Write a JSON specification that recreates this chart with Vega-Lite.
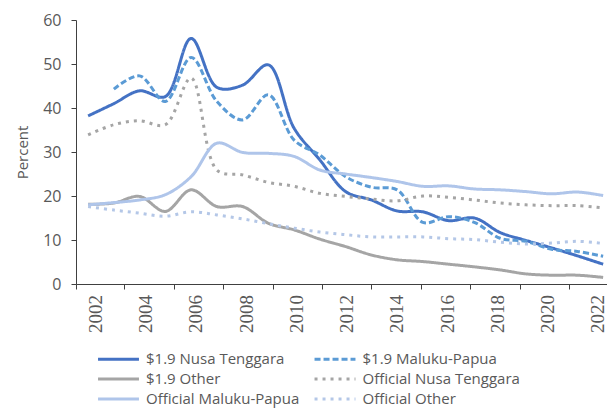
{
  "$schema": "https://vega.github.io/schema/vega-lite/v6.json",
  "width": 531,
  "height": 264,
  "autosize": {"type": "none"},
  "padding": {"left": 76, "top": 20, "right": 0, "bottom": 124},
  "background": "white",
  "config": {
    "view": {"stroke": null},
    "font": "Open Sans",
    "axis": {"labelFont": "Open Sans", "titleFont": "Open Sans", "labelColor": "#595959", "titleColor": "#595959", "domainColor": "#404040", "tickColor": "#404040", "grid": false}
  },
  "data": {"values": [
    {"year": 2002, "series": "$1.9 Nusa Tenggara", "value": 38.2},
    {"year": 2003, "series": "$1.9 Nusa Tenggara", "value": 41.0},
    {"year": 2004, "series": "$1.9 Nusa Tenggara", "value": 43.9},
    {"year": 2005, "series": "$1.9 Nusa Tenggara", "value": 42.6},
    {"year": 2006, "series": "$1.9 Nusa Tenggara", "value": 55.8},
    {"year": 2007, "series": "$1.9 Nusa Tenggara", "value": 44.7},
    {"year": 2008, "series": "$1.9 Nusa Tenggara", "value": 45.2},
    {"year": 2009, "series": "$1.9 Nusa Tenggara", "value": 49.8},
    {"year": 2010, "series": "$1.9 Nusa Tenggara", "value": 35.4},
    {"year": 2011, "series": "$1.9 Nusa Tenggara", "value": 28.2},
    {"year": 2012, "series": "$1.9 Nusa Tenggara", "value": 21.0},
    {"year": 2013, "series": "$1.9 Nusa Tenggara", "value": 19.1},
    {"year": 2014, "series": "$1.9 Nusa Tenggara", "value": 16.6},
    {"year": 2015, "series": "$1.9 Nusa Tenggara", "value": 16.4},
    {"year": 2016, "series": "$1.9 Nusa Tenggara", "value": 14.4},
    {"year": 2017, "series": "$1.9 Nusa Tenggara", "value": 15.0},
    {"year": 2018, "series": "$1.9 Nusa Tenggara", "value": 11.7},
    {"year": 2019, "series": "$1.9 Nusa Tenggara", "value": 9.9},
    {"year": 2020, "series": "$1.9 Nusa Tenggara", "value": 8.2},
    {"year": 2021, "series": "$1.9 Nusa Tenggara", "value": 6.4},
    {"year": 2022, "series": "$1.9 Nusa Tenggara", "value": 4.5},

    {"year": 2003, "series": "$1.9 Maluku-Papua", "value": 44.3},
    {"year": 2004, "series": "$1.9 Maluku-Papua", "value": 47.3},
    {"year": 2005, "series": "$1.9 Maluku-Papua", "value": 41.5},
    {"year": 2006, "series": "$1.9 Maluku-Papua", "value": 51.5},
    {"year": 2007, "series": "$1.9 Maluku-Papua", "value": 41.5},
    {"year": 2008, "series": "$1.9 Maluku-Papua", "value": 37.3},
    {"year": 2009, "series": "$1.9 Maluku-Papua", "value": 43.0},
    {"year": 2010, "series": "$1.9 Maluku-Papua", "value": 32.7},
    {"year": 2011, "series": "$1.9 Maluku-Papua", "value": 29.3},
    {"year": 2012, "series": "$1.9 Maluku-Papua", "value": 24.4},
    {"year": 2013, "series": "$1.9 Maluku-Papua", "value": 22.0},
    {"year": 2014, "series": "$1.9 Maluku-Papua", "value": 21.4},
    {"year": 2015, "series": "$1.9 Maluku-Papua", "value": 14.0},
    {"year": 2016, "series": "$1.9 Maluku-Papua", "value": 15.3},
    {"year": 2017, "series": "$1.9 Maluku-Papua", "value": 14.0},
    {"year": 2018, "series": "$1.9 Maluku-Papua", "value": 10.4},
    {"year": 2019, "series": "$1.9 Maluku-Papua", "value": 9.7},
    {"year": 2020, "series": "$1.9 Maluku-Papua", "value": 7.9},
    {"year": 2021, "series": "$1.9 Maluku-Papua", "value": 7.4},
    {"year": 2022, "series": "$1.9 Maluku-Papua", "value": 6.3},

    {"year": 2002, "series": "$1.9 Other", "value": 18.1},
    {"year": 2003, "series": "$1.9 Other", "value": 18.4},
    {"year": 2004, "series": "$1.9 Other", "value": 19.9},
    {"year": 2005, "series": "$1.9 Other", "value": 16.5},
    {"year": 2006, "series": "$1.9 Other", "value": 21.4},
    {"year": 2007, "series": "$1.9 Other", "value": 17.6},
    {"year": 2008, "series": "$1.9 Other", "value": 17.6},
    {"year": 2009, "series": "$1.9 Other", "value": 13.8},
    {"year": 2010, "series": "$1.9 Other", "value": 12.3},
    {"year": 2011, "series": "$1.9 Other", "value": 10.2},
    {"year": 2012, "series": "$1.9 Other", "value": 8.5},
    {"year": 2013, "series": "$1.9 Other", "value": 6.6},
    {"year": 2014, "series": "$1.9 Other", "value": 5.5},
    {"year": 2015, "series": "$1.9 Other", "value": 5.1},
    {"year": 2016, "series": "$1.9 Other", "value": 4.5},
    {"year": 2017, "series": "$1.9 Other", "value": 3.9},
    {"year": 2018, "series": "$1.9 Other", "value": 3.2},
    {"year": 2019, "series": "$1.9 Other", "value": 2.3},
    {"year": 2020, "series": "$1.9 Other", "value": 2.0},
    {"year": 2021, "series": "$1.9 Other", "value": 2.0},
    {"year": 2022, "series": "$1.9 Other", "value": 1.5},

    {"year": 2002, "series": "Official Nusa Tenggara", "value": 33.9},
    {"year": 2003, "series": "Official Nusa Tenggara", "value": 36.2},
    {"year": 2004, "series": "Official Nusa Tenggara", "value": 37.1},
    {"year": 2005, "series": "Official Nusa Tenggara", "value": 36.2},
    {"year": 2006, "series": "Official Nusa Tenggara", "value": 46.8},
    {"year": 2007, "series": "Official Nusa Tenggara", "value": 25.9},
    {"year": 2008, "series": "Official Nusa Tenggara", "value": 24.8},
    {"year": 2009, "series": "Official Nusa Tenggara", "value": 23.1},
    {"year": 2010, "series": "Official Nusa Tenggara", "value": 22.2},
    {"year": 2011, "series": "Official Nusa Tenggara", "value": 20.6},
    {"year": 2012, "series": "Official Nusa Tenggara", "value": 19.9},
    {"year": 2013, "series": "Official Nusa Tenggara", "value": 19.3},
    {"year": 2014, "series": "Official Nusa Tenggara", "value": 18.9},
    {"year": 2015, "series": "Official Nusa Tenggara", "value": 20.0},
    {"year": 2016, "series": "Official Nusa Tenggara", "value": 19.7},
    {"year": 2017, "series": "Official Nusa Tenggara", "value": 19.1},
    {"year": 2018, "series": "Official Nusa Tenggara", "value": 18.4},
    {"year": 2019, "series": "Official Nusa Tenggara", "value": 18.0},
    {"year": 2020, "series": "Official Nusa Tenggara", "value": 17.8},
    {"year": 2021, "series": "Official Nusa Tenggara", "value": 17.8},
    {"year": 2022, "series": "Official Nusa Tenggara", "value": 17.3},

    {"year": 2002, "series": "Official Maluku-Papua", "value": 18.0},
    {"year": 2003, "series": "Official Maluku-Papua", "value": 18.5},
    {"year": 2004, "series": "Official Maluku-Papua", "value": 19.1},
    {"year": 2005, "series": "Official Maluku-Papua", "value": 20.3},
    {"year": 2006, "series": "Official Maluku-Papua", "value": 24.4},
    {"year": 2007, "series": "Official Maluku-Papua", "value": 32.0},
    {"year": 2008, "series": "Official Maluku-Papua", "value": 29.9},
    {"year": 2009, "series": "Official Maluku-Papua", "value": 29.7},
    {"year": 2010, "series": "Official Maluku-Papua", "value": 29.0},
    {"year": 2011, "series": "Official Maluku-Papua", "value": 25.9},
    {"year": 2012, "series": "Official Maluku-Papua", "value": 25.0},
    {"year": 2013, "series": "Official Maluku-Papua", "value": 24.2},
    {"year": 2014, "series": "Official Maluku-Papua", "value": 23.3},
    {"year": 2015, "series": "Official Maluku-Papua", "value": 22.2},
    {"year": 2016, "series": "Official Maluku-Papua", "value": 22.3},
    {"year": 2017, "series": "Official Maluku-Papua", "value": 21.6},
    {"year": 2018, "series": "Official Maluku-Papua", "value": 21.4},
    {"year": 2019, "series": "Official Maluku-Papua", "value": 21.0},
    {"year": 2020, "series": "Official Maluku-Papua", "value": 20.5},
    {"year": 2021, "series": "Official Maluku-Papua", "value": 20.9},
    {"year": 2022, "series": "Official Maluku-Papua", "value": 20.1},

    {"year": 2002, "series": "Official Other", "value": 17.6},
    {"year": 2003, "series": "Official Other", "value": 16.8},
    {"year": 2004, "series": "Official Other", "value": 16.1},
    {"year": 2005, "series": "Official Other", "value": 15.4},
    {"year": 2006, "series": "Official Other", "value": 16.4},
    {"year": 2007, "series": "Official Other", "value": 15.7},
    {"year": 2008, "series": "Official Other", "value": 14.8},
    {"year": 2009, "series": "Official Other", "value": 13.7},
    {"year": 2010, "series": "Official Other", "value": 12.7},
    {"year": 2011, "series": "Official Other", "value": 11.8},
    {"year": 2012, "series": "Official Other", "value": 11.2},
    {"year": 2013, "series": "Official Other", "value": 10.7},
    {"year": 2014, "series": "Official Other", "value": 10.7},
    {"year": 2015, "series": "Official Other", "value": 10.7},
    {"year": 2016, "series": "Official Other", "value": 10.3},
    {"year": 2017, "series": "Official Other", "value": 10.1},
    {"year": 2018, "series": "Official Other", "value": 9.5},
    {"year": 2019, "series": "Official Other", "value": 9.1},
    {"year": 2020, "series": "Official Other", "value": 9.3},
    {"year": 2021, "series": "Official Other", "value": 9.7},
    {"year": 2022, "series": "Official Other", "value": 9.2}
  ]},
  "layer": [
    {
      "mark": {"type": "line", "interpolate": "catmull-rom", "strokeWidth": 3, "strokeCap": "butt"},
      "encoding": {
        "x": {
          "field": "year", "type": "quantitative",
          "scale": {"domain": [2001.53, 2022.15], "nice": false, "zero": false},
          "axis": {
            "title": null,
            "values": [2001.53, 2003.41, 2005.33, 2007.25, 2009.17, 2011.08, 2013.0, 2014.92, 2016.84, 2018.76, 2020.68],
            "labels": false, "tickSize": 5
          }
        },
        "y": {
          "field": "value", "type": "quantitative",
          "scale": {"domain": [0, 60], "nice": false},
          "axis": {
            "title": "Percent", "values": [0, 10, 20, 30, 40, 50, 60],
            "tickSize": 5, "labelPadding": 10, "labelFontSize": 16,
            "titleFontSize": 15, "titleFontWeight": "normal",
            "titleX": -54, "titleY": 132, "titleAngle": -90, "titleAlign": "center", "titleBaseline": "middle"
          }
        },
        "color": {
          "field": "series", "type": "nominal",
          "scale": {
            "domain": ["$1.9 Nusa Tenggara", "$1.9 Maluku-Papua", "$1.9 Other", "Official Nusa Tenggara", "Official Maluku-Papua", "Official Other"],
            "range": ["#4472C4", "#5B9BD5", "#A5A5A5", "#A5A5A5", "#AFC5EA", "#B4C7E7"]
          },
          "legend": {
            "title": null, "orient": "none", "legendX": 31, "legendY": 327.5, "columns": 2, "direction": "horizontal",
            "symbolType": "M-2.1,0H2.1", "symbolSize": 380, "symbolStrokeWidth": 3,
            "labelFontSize": 15, "labelFont": "Open Sans", "labelColor": "#595959",
            "labelOffset": 16, "rowPadding": -1, "columnPadding": 8.5, "padding": 0
          }
        },
        "strokeDash": {
          "field": "series", "type": "nominal",
          "scale": {
            "domain": ["$1.9 Nusa Tenggara", "$1.9 Maluku-Papua", "$1.9 Other", "Official Nusa Tenggara", "Official Maluku-Papua", "Official Other"],
            "range": [[1, 0], [6, 3], [1, 0], [3, 5], [1, 0], [3, 5]]
          },
          "legend": null
        }
      }
    },
    {
      "mark": {"type": "line", "strokeOpacity": 0},
      "encoding": {
        "x": {
          "field": "year", "type": "quantitative",
          "scale": {"domain": [2001.192, 2022.32], "nice": false, "zero": false},
          "axis": {
            "title": null, "orient": "bottom", "domain": false, "ticks": false,
            "values": [2002, 2004, 2006, 2008, 2010, 2012, 2014, 2016, 2018, 2020, 2022],
            "format": "d",
            "labelAngle": -90, "labelAlign": "right", "labelBaseline": "middle",
            "labelPadding": 10.5, "labelOffset": -1, "labelFont": "Liberation Sans Narrow", "labelFontSize": 19,
            "labelOverlap": false, "labelFlush": false, "labelBound": false
          }
        },
        "y": {"field": "value", "type": "quantitative"},
        "detail": {"field": "series"}
      }
    }
  ],
  "resolve": {"scale": {"x": "independent"}, "axis": {"x": "independent"}}
}
